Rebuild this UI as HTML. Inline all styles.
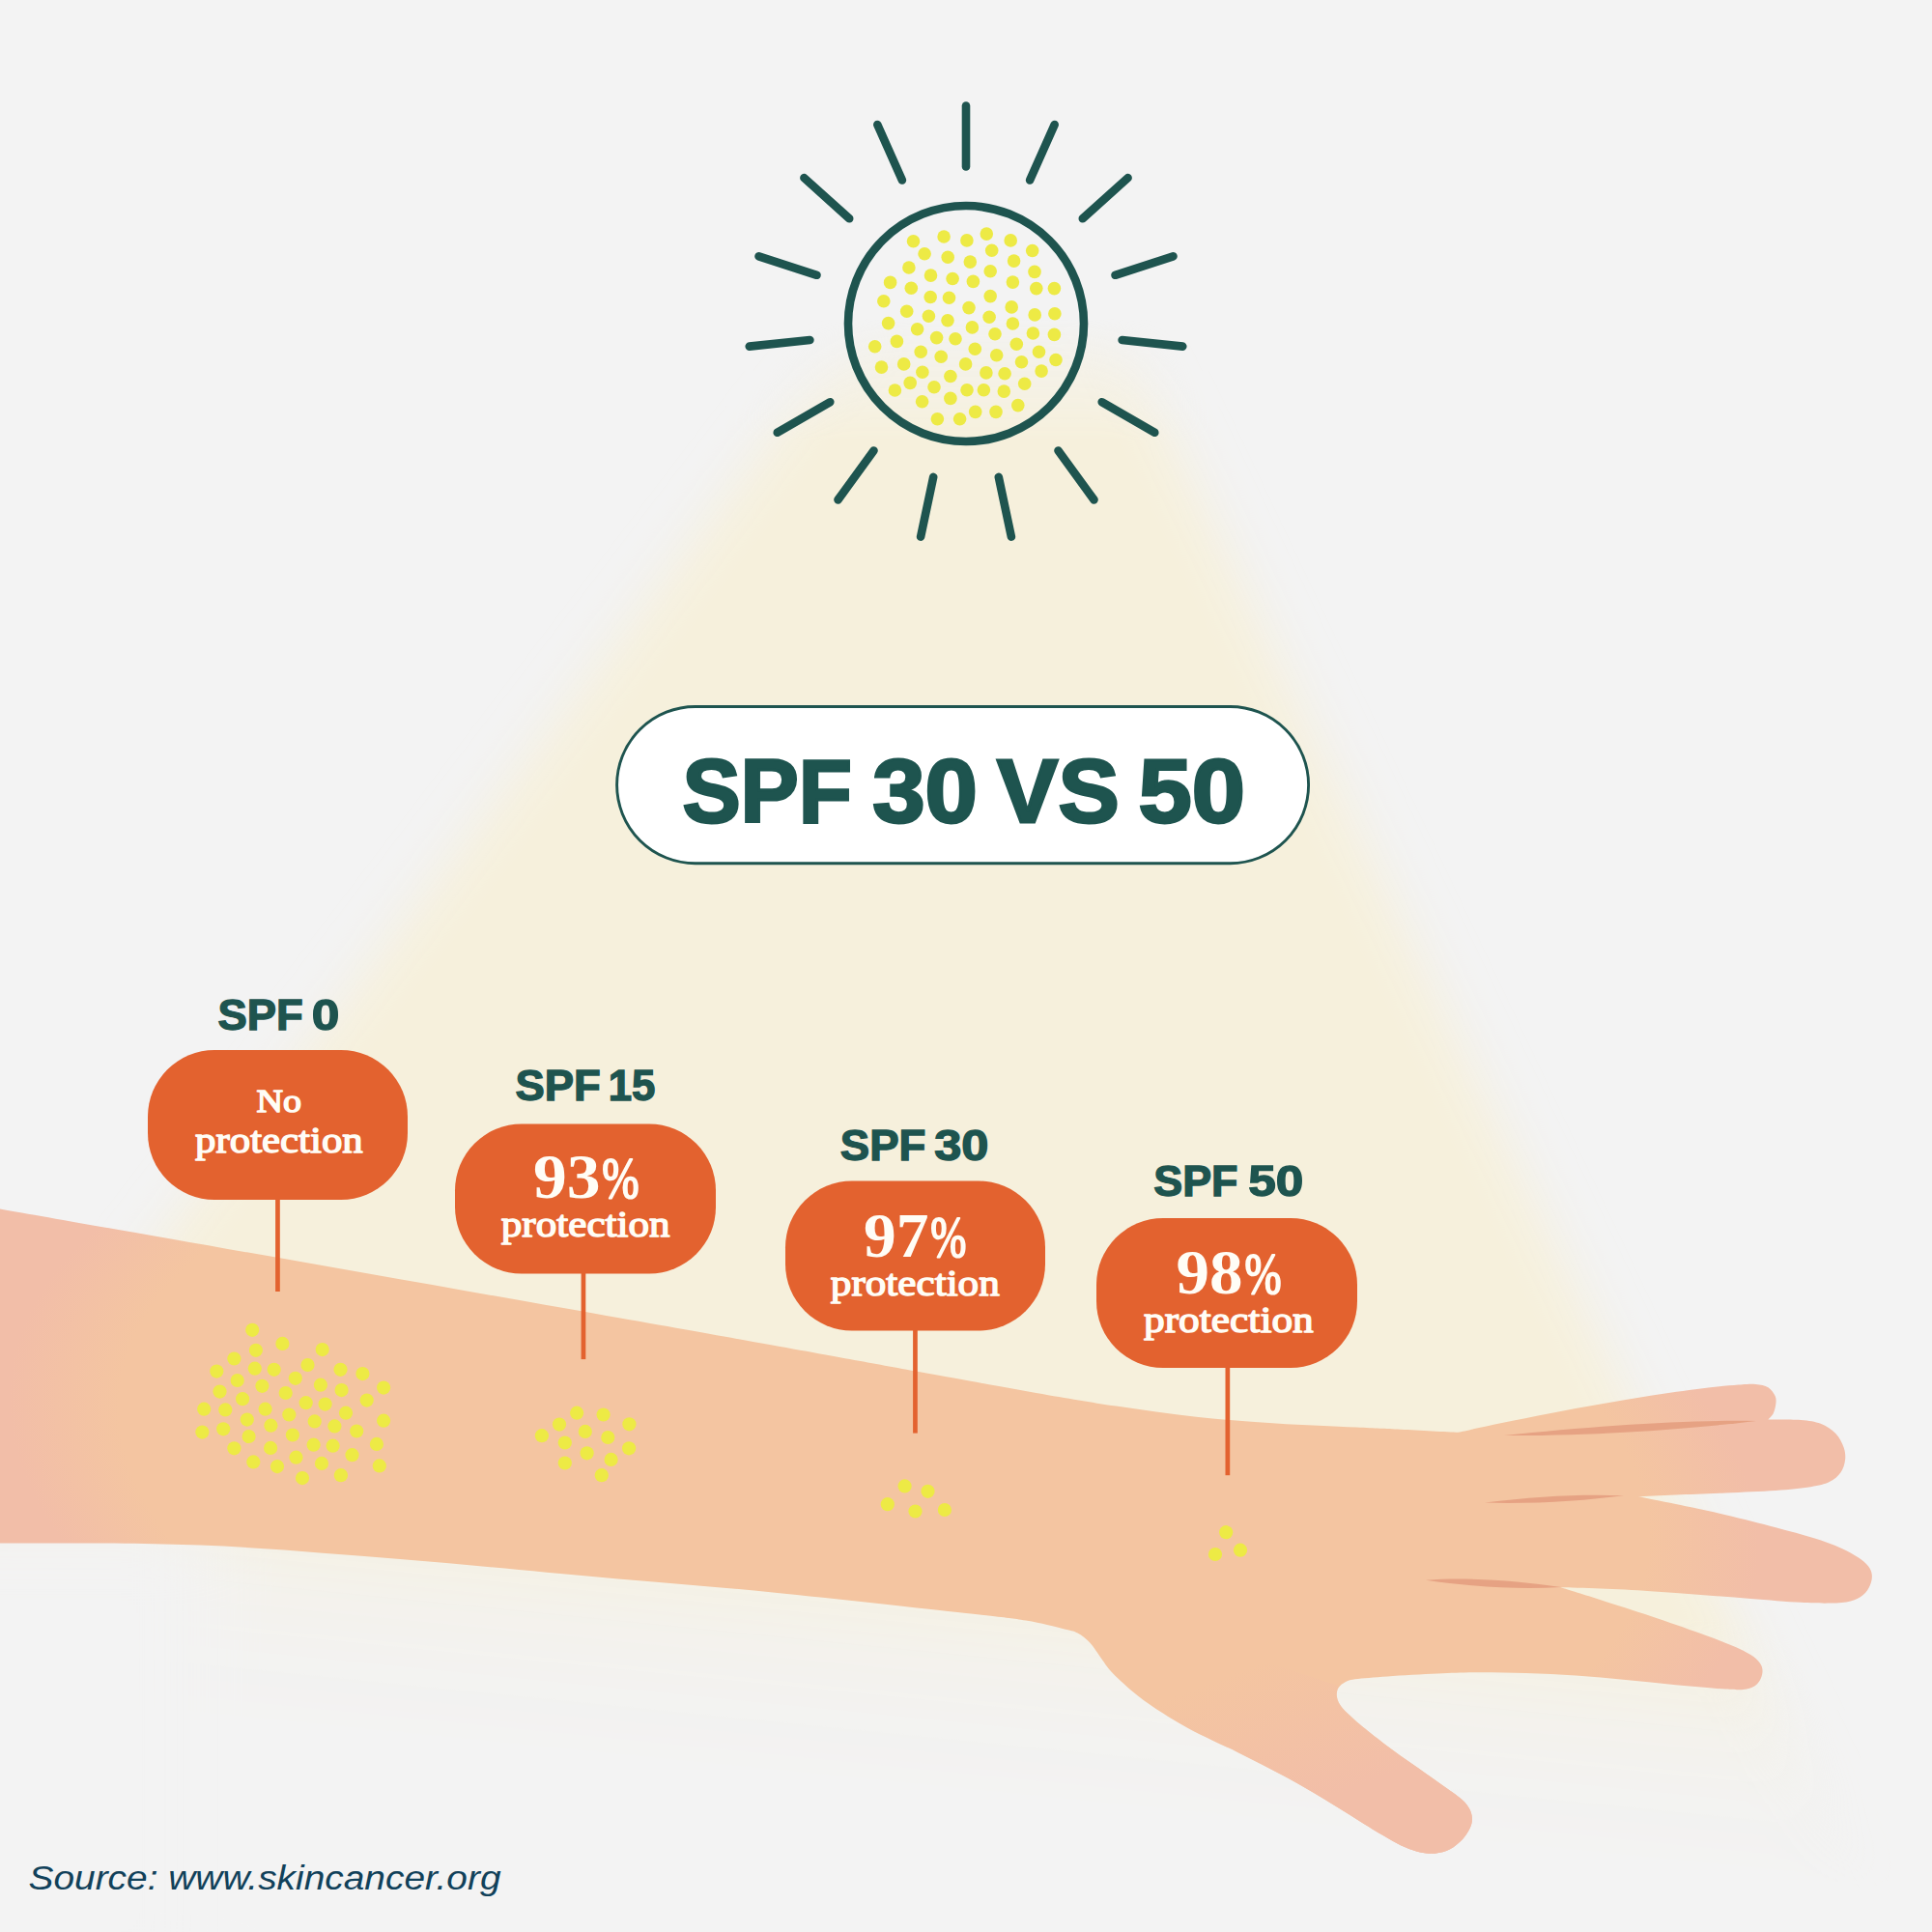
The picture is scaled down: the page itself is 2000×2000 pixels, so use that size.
<!DOCTYPE html>
<html lang="en"><head><meta charset="utf-8"><title>SPF 30 VS 50</title>
<style>
html,body{margin:0;padding:0;background:#F3F3F3;}
body{width:2000px;height:2000px;overflow:hidden;}
svg{display:block;}
.sans{font-family:"Liberation Sans",Arial,Helvetica,sans-serif;font-weight:700;fill:#1E544F;stroke:#1E544F;stroke-linejoin:miter;}
.serif{font-family:"Liberation Serif","Times New Roman",serif;font-weight:400;fill:#FFFDF6;stroke:#FFFDF6;stroke-linejoin:round;}
.serifb{font-family:"Liberation Serif","Times New Roman",serif;font-weight:700;fill:#FFFDF6;}
.src{font-family:"Liberation Sans",Arial,Helvetica,sans-serif;font-style:italic;fill:#11415A;}
</style></head><body>
<svg width="2000" height="2000" viewBox="0 0 2000 2000">
<defs>
<filter id="blur" x="-10%" y="-10%" width="120%" height="120%"><feGaussianBlur stdDeviation="26"/></filter>
<filter id="blur2" x="-40%" y="-40%" width="180%" height="180%"><feGaussianBlur stdDeviation="40"/></filter>
<linearGradient id="fadeTop" x1="0" y1="0" x2="0" y2="2000" gradientUnits="userSpaceOnUse">
<stop offset="0.165" stop-color="#fff" stop-opacity="0"/><stop offset="0.192" stop-color="#fff" stop-opacity="0.5"/><stop offset="0.228" stop-color="#fff" stop-opacity="1"/><stop offset="1" stop-color="#fff" stop-opacity="1"/></linearGradient>
<linearGradient id="fadeBot" x1="1000" y1="1600" x2="974" y2="1860" gradientUnits="userSpaceOnUse">
<stop offset="0" stop-color="#fff" stop-opacity="1"/><stop offset="0.27" stop-color="#fff" stop-opacity="0.55"/><stop offset="0.45" stop-color="#fff" stop-opacity="0.28"/><stop offset="0.7" stop-color="#fff" stop-opacity="0.1"/><stop offset="1" stop-color="#fff" stop-opacity="0"/></linearGradient>
<mask id="mTop" maskUnits="userSpaceOnUse" x="-300" y="0" width="2600" height="2100"><rect x="-300" y="0" width="2600" height="2100" fill="url(#fadeTop)"/></mask>
<mask id="mBot" maskUnits="userSpaceOnUse" x="-300" y="0" width="2600" height="2100"><rect x="-300" y="0" width="2600" height="2100" fill="url(#fadeBot)"/></mask>
<radialGradient id="skin" gradientUnits="userSpaceOnUse" cx="0" cy="0" r="1000" gradientTransform="translate(915,1524) rotate(6.2) scale(1,0.46)">
<stop offset="0" stop-color="#F4C5A1"/><stop offset="0.795" stop-color="#F4C5A1"/><stop offset="0.91" stop-color="#F2BEA8"/><stop offset="1" stop-color="#F2BEA8"/></radialGradient>
<linearGradient id="thumbg" x1="1270" y1="1735" x2="1325" y2="1880" gradientUnits="userSpaceOnUse">
<stop offset="0" stop-color="#F2BEA8" stop-opacity="0"/><stop offset="1" stop-color="#F2BEA8" stop-opacity="1"/></linearGradient>
<clipPath id="thumbclip"><path d="M1100,1650 L1385,1745 L1385,1760 L1560,1900 L1560,2000 L1100,2000Z"/></clipPath>
</defs>
<rect width="2000" height="2000" fill="#F3F3F3"/>
<g mask="url(#mBot)"><g mask="url(#mTop)"><path d="M 918,300 L 1140,300 L 1947,2000 L 1947,2100 L -377,2100 L -377,2000 Z" fill="#F6F0DC" filter="url(#blur)"/></g></g>
<rect x="-150" y="1575" width="370" height="500" fill="#F3F3F3" filter="url(#blur2)"/>
<path d="M -5,1250.5 C 112.5,1271.2 541.1,1346.6 700,1374.8 C 858.9,1403 886.3,1408.4 948.4,1419.6 C 1010.5,1430.8 1038.2,1435.9 1072.7,1441.9 C 1107.2,1447.9 1127.9,1451.4 1155.5,1455.6 C 1183.1,1459.8 1210.7,1463.8 1238.3,1466.8 C 1265.9,1469.8 1293.4,1471.6 1321,1473.4 C 1348.6,1475.2 1382.5,1476.5 1404,1477.5 C 1425.5,1478.5 1432.4,1478.8 1450,1479.7 C 1467.6,1480.6 1499.6,1482.3 1509.5,1482.8 C 1516.8,1481.2 1537.5,1476.5 1553.5,1473.2 C 1569.5,1469.9 1588,1466.2 1605.3,1462.9 C 1622.5,1459.6 1639.8,1456.6 1657,1453.6 C 1674.2,1450.6 1691.5,1447.5 1708.8,1444.8 C 1726.1,1442.1 1745.5,1439.4 1760.6,1437.5 C 1775.7,1435.6 1789.9,1434.4 1799.4,1433.6 C 1808.9,1432.8 1812.3,1432.5 1817.5,1432.9 C 1822.7,1433.3 1827,1434.1 1830.4,1436.2 C 1833.8,1438.3 1836.4,1442.3 1837.7,1445.3 C 1839,1448.3 1838.6,1451.3 1838.2,1454.3 C 1837.8,1457.3 1836.9,1460.9 1835.6,1463.4 C 1834.3,1465.9 1831.3,1468.4 1830.4,1469.4 C 1836,1469.5 1855,1469.2 1864.1,1469.9 C 1873.2,1470.6 1878.8,1471.4 1884.8,1473.8 C 1890.8,1476.2 1896.3,1480 1900.3,1484.1 C 1904.3,1488.2 1907,1493.8 1908.6,1498.3 C 1910.2,1502.8 1910.6,1507 1910.1,1511.3 C 1909.6,1515.6 1908.2,1520.4 1905.5,1524.2 C 1902.8,1528 1899,1531.6 1893.8,1534.1 C 1888.6,1536.6 1883.7,1537.7 1874.4,1539.2 C 1865.1,1540.7 1852.9,1541.9 1838.2,1542.9 C 1823.5,1543.9 1803.7,1544.6 1786.4,1545.4 C 1769.2,1546.2 1749.8,1546.8 1734.7,1547.5 C 1719.6,1548.2 1702.4,1549 1695.9,1549.3 C 1702.4,1550.6 1719.6,1553.9 1734.7,1557.1 C 1749.8,1560.2 1769.2,1564.2 1786.4,1568.2 C 1803.7,1572.2 1823.1,1577.2 1838.2,1581.2 C 1853.3,1585.2 1865.8,1588.5 1877,1592 C 1888.2,1595.5 1897.7,1599 1905.5,1602.4 C 1913.3,1605.8 1918.8,1609.1 1923.6,1612.2 C 1928.3,1615.3 1931.6,1618.3 1934,1621.3 C 1936.4,1624.3 1937.5,1627.1 1937.8,1630.3 C 1938.1,1633.5 1937.5,1637.2 1936,1640.7 C 1934.5,1644.2 1932.2,1648.2 1928.8,1651 C 1925.4,1653.8 1921.4,1656.1 1915.8,1657.5 C 1910.2,1658.9 1903.7,1659.4 1895.1,1659.6 C 1886.5,1659.8 1877.9,1659.6 1864.1,1658.8 C 1850.3,1658 1829.5,1656.2 1812.3,1654.9 C 1795,1653.6 1777.8,1652.3 1760.6,1651 C 1743.3,1649.7 1726.1,1648.3 1708.8,1647.2 C 1691.5,1646.1 1672.5,1645.2 1657,1644.6 C 1641.5,1643.9 1622.5,1643.5 1615.6,1643.3 C 1622.5,1645.5 1641.5,1651.2 1657,1656.2 C 1672.5,1661.2 1691.5,1667.2 1708.8,1673 C 1726.1,1678.8 1746.4,1685.9 1760.6,1691.1 C 1774.8,1696.3 1785.6,1700.4 1794.2,1704.1 C 1802.8,1707.8 1807.8,1710.3 1812.3,1713.1 C 1816.8,1715.9 1819.4,1718.3 1821.4,1720.9 C 1823.4,1723.5 1824.3,1725.9 1824.5,1728.7 C 1824.7,1731.5 1824.1,1734.9 1822.7,1737.7 C 1821.3,1740.5 1819.2,1743.6 1816.2,1745.5 C 1813.2,1747.4 1809.6,1748.4 1804.6,1748.9 C 1799.6,1749.4 1798.1,1749.4 1786.4,1748.6 C 1774.8,1747.8 1752,1745.8 1734.7,1744.2 C 1717.5,1742.6 1700.2,1740.6 1682.9,1739 C 1665.7,1737.4 1648.5,1735.8 1631.2,1734.6 C 1614,1733.4 1596.7,1732.5 1579.4,1732 C 1562.1,1731.5 1542.8,1731.2 1527.6,1731.3 C 1512.4,1731.4 1503.4,1731.9 1488.2,1732.6 C 1473,1733.3 1450.6,1734.5 1436.4,1735.4 C 1422.2,1736.4 1410.3,1737.2 1402.8,1738.3 C 1395.2,1739.4 1394.1,1740.5 1391.1,1742.2 C 1388.1,1743.9 1385.8,1746.1 1384.7,1748.7 C 1383.6,1751.3 1383.6,1754.8 1384.2,1757.8 C 1384.8,1760.8 1386.4,1763.8 1388.6,1766.8 C 1390.8,1769.8 1393.9,1772.5 1397.6,1775.9 C 1401.3,1779.4 1404.1,1782.2 1410.6,1787.5 C 1417.1,1792.8 1427.8,1801.2 1436.4,1807.7 C 1445,1814.2 1453.7,1820.2 1462.3,1826.3 C 1470.9,1832.4 1480,1838.7 1488.2,1844.5 C 1496.4,1850.3 1506.1,1856.8 1511.5,1861.3 C 1516.9,1865.8 1518.5,1868.1 1520.6,1871.6 C 1522.7,1875 1523.7,1878.5 1523.9,1882 C 1524.1,1885.5 1523.4,1888.6 1521.8,1892.3 C 1520.2,1896 1517.5,1900.3 1514.1,1904 C 1510.6,1907.7 1505.8,1911.8 1501.1,1914.3 C 1496.3,1916.8 1490.8,1918.2 1485.6,1918.7 C 1480.4,1919.2 1475.2,1918.5 1470,1917.4 C 1464.8,1916.3 1460.2,1914.8 1454.6,1912.3 C 1449,1909.8 1443.7,1906.9 1436.4,1902.7 C 1429.1,1898.5 1419.2,1892.5 1410.6,1887.2 C 1402,1881.9 1393.3,1876.4 1384.7,1871.1 C 1376.1,1865.8 1367.4,1860.4 1358.8,1855.3 C 1350.2,1850.2 1341.5,1845.3 1332.9,1840.6 C 1324.3,1835.9 1315.6,1831.4 1307,1826.9 C 1298.4,1822.5 1289.8,1818.1 1281.2,1813.9 C 1272.6,1809.7 1263.9,1805.9 1255.3,1801.7 C 1246.7,1797.5 1238,1793.5 1229.4,1788.8 C 1220.8,1784.1 1212.1,1778.9 1203.5,1773.3 C 1194.9,1767.7 1186.2,1762.1 1177.6,1755.2 C 1169,1748.3 1158.3,1738.6 1151.8,1731.9 C 1145.3,1725.2 1142.7,1720.2 1138.8,1715 C 1134.9,1709.8 1132.4,1704.9 1128.5,1700.8 C 1124.6,1696.7 1120.2,1693 1115.5,1690.5 C 1110.8,1688 1108.9,1688.2 1100,1686 C 1091.1,1683.8 1078.7,1680.3 1062,1677.6 C 1045.3,1674.9 1043.7,1674.9 1000,1670 C 956.3,1665.1 863.2,1654.6 800,1648.4 C 736.8,1642.2 685.3,1638.4 621,1632.7 C 556.7,1627 483,1619.5 414,1614 C 345,1608.5 276.8,1602.3 207,1599.6 C 137.2,1596.8 30.3,1597.8 -5,1597.5 Z" fill="url(#skin)"/>
<path d="M -5,1250.5 C 112.5,1271.2 541.1,1346.6 700,1374.8 C 858.9,1403 886.3,1408.4 948.4,1419.6 C 1010.5,1430.8 1038.2,1435.9 1072.7,1441.9 C 1107.2,1447.9 1127.9,1451.4 1155.5,1455.6 C 1183.1,1459.8 1210.7,1463.8 1238.3,1466.8 C 1265.9,1469.8 1293.4,1471.6 1321,1473.4 C 1348.6,1475.2 1382.5,1476.5 1404,1477.5 C 1425.5,1478.5 1432.4,1478.8 1450,1479.7 C 1467.6,1480.6 1499.6,1482.3 1509.5,1482.8 C 1516.8,1481.2 1537.5,1476.5 1553.5,1473.2 C 1569.5,1469.9 1588,1466.2 1605.3,1462.9 C 1622.5,1459.6 1639.8,1456.6 1657,1453.6 C 1674.2,1450.6 1691.5,1447.5 1708.8,1444.8 C 1726.1,1442.1 1745.5,1439.4 1760.6,1437.5 C 1775.7,1435.6 1789.9,1434.4 1799.4,1433.6 C 1808.9,1432.8 1812.3,1432.5 1817.5,1432.9 C 1822.7,1433.3 1827,1434.1 1830.4,1436.2 C 1833.8,1438.3 1836.4,1442.3 1837.7,1445.3 C 1839,1448.3 1838.6,1451.3 1838.2,1454.3 C 1837.8,1457.3 1836.9,1460.9 1835.6,1463.4 C 1834.3,1465.9 1831.3,1468.4 1830.4,1469.4 C 1836,1469.5 1855,1469.2 1864.1,1469.9 C 1873.2,1470.6 1878.8,1471.4 1884.8,1473.8 C 1890.8,1476.2 1896.3,1480 1900.3,1484.1 C 1904.3,1488.2 1907,1493.8 1908.6,1498.3 C 1910.2,1502.8 1910.6,1507 1910.1,1511.3 C 1909.6,1515.6 1908.2,1520.4 1905.5,1524.2 C 1902.8,1528 1899,1531.6 1893.8,1534.1 C 1888.6,1536.6 1883.7,1537.7 1874.4,1539.2 C 1865.1,1540.7 1852.9,1541.9 1838.2,1542.9 C 1823.5,1543.9 1803.7,1544.6 1786.4,1545.4 C 1769.2,1546.2 1749.8,1546.8 1734.7,1547.5 C 1719.6,1548.2 1702.4,1549 1695.9,1549.3 C 1702.4,1550.6 1719.6,1553.9 1734.7,1557.1 C 1749.8,1560.2 1769.2,1564.2 1786.4,1568.2 C 1803.7,1572.2 1823.1,1577.2 1838.2,1581.2 C 1853.3,1585.2 1865.8,1588.5 1877,1592 C 1888.2,1595.5 1897.7,1599 1905.5,1602.4 C 1913.3,1605.8 1918.8,1609.1 1923.6,1612.2 C 1928.3,1615.3 1931.6,1618.3 1934,1621.3 C 1936.4,1624.3 1937.5,1627.1 1937.8,1630.3 C 1938.1,1633.5 1937.5,1637.2 1936,1640.7 C 1934.5,1644.2 1932.2,1648.2 1928.8,1651 C 1925.4,1653.8 1921.4,1656.1 1915.8,1657.5 C 1910.2,1658.9 1903.7,1659.4 1895.1,1659.6 C 1886.5,1659.8 1877.9,1659.6 1864.1,1658.8 C 1850.3,1658 1829.5,1656.2 1812.3,1654.9 C 1795,1653.6 1777.8,1652.3 1760.6,1651 C 1743.3,1649.7 1726.1,1648.3 1708.8,1647.2 C 1691.5,1646.1 1672.5,1645.2 1657,1644.6 C 1641.5,1643.9 1622.5,1643.5 1615.6,1643.3 C 1622.5,1645.5 1641.5,1651.2 1657,1656.2 C 1672.5,1661.2 1691.5,1667.2 1708.8,1673 C 1726.1,1678.8 1746.4,1685.9 1760.6,1691.1 C 1774.8,1696.3 1785.6,1700.4 1794.2,1704.1 C 1802.8,1707.8 1807.8,1710.3 1812.3,1713.1 C 1816.8,1715.9 1819.4,1718.3 1821.4,1720.9 C 1823.4,1723.5 1824.3,1725.9 1824.5,1728.7 C 1824.7,1731.5 1824.1,1734.9 1822.7,1737.7 C 1821.3,1740.5 1819.2,1743.6 1816.2,1745.5 C 1813.2,1747.4 1809.6,1748.4 1804.6,1748.9 C 1799.6,1749.4 1798.1,1749.4 1786.4,1748.6 C 1774.8,1747.8 1752,1745.8 1734.7,1744.2 C 1717.5,1742.6 1700.2,1740.6 1682.9,1739 C 1665.7,1737.4 1648.5,1735.8 1631.2,1734.6 C 1614,1733.4 1596.7,1732.5 1579.4,1732 C 1562.1,1731.5 1542.8,1731.2 1527.6,1731.3 C 1512.4,1731.4 1503.4,1731.9 1488.2,1732.6 C 1473,1733.3 1450.6,1734.5 1436.4,1735.4 C 1422.2,1736.4 1410.3,1737.2 1402.8,1738.3 C 1395.2,1739.4 1394.1,1740.5 1391.1,1742.2 C 1388.1,1743.9 1385.8,1746.1 1384.7,1748.7 C 1383.6,1751.3 1383.6,1754.8 1384.2,1757.8 C 1384.8,1760.8 1386.4,1763.8 1388.6,1766.8 C 1390.8,1769.8 1393.9,1772.5 1397.6,1775.9 C 1401.3,1779.4 1404.1,1782.2 1410.6,1787.5 C 1417.1,1792.8 1427.8,1801.2 1436.4,1807.7 C 1445,1814.2 1453.7,1820.2 1462.3,1826.3 C 1470.9,1832.4 1480,1838.7 1488.2,1844.5 C 1496.4,1850.3 1506.1,1856.8 1511.5,1861.3 C 1516.9,1865.8 1518.5,1868.1 1520.6,1871.6 C 1522.7,1875 1523.7,1878.5 1523.9,1882 C 1524.1,1885.5 1523.4,1888.6 1521.8,1892.3 C 1520.2,1896 1517.5,1900.3 1514.1,1904 C 1510.6,1907.7 1505.8,1911.8 1501.1,1914.3 C 1496.3,1916.8 1490.8,1918.2 1485.6,1918.7 C 1480.4,1919.2 1475.2,1918.5 1470,1917.4 C 1464.8,1916.3 1460.2,1914.8 1454.6,1912.3 C 1449,1909.8 1443.7,1906.9 1436.4,1902.7 C 1429.1,1898.5 1419.2,1892.5 1410.6,1887.2 C 1402,1881.9 1393.3,1876.4 1384.7,1871.1 C 1376.1,1865.8 1367.4,1860.4 1358.8,1855.3 C 1350.2,1850.2 1341.5,1845.3 1332.9,1840.6 C 1324.3,1835.9 1315.6,1831.4 1307,1826.9 C 1298.4,1822.5 1289.8,1818.1 1281.2,1813.9 C 1272.6,1809.7 1263.9,1805.9 1255.3,1801.7 C 1246.7,1797.5 1238,1793.5 1229.4,1788.8 C 1220.8,1784.1 1212.1,1778.9 1203.5,1773.3 C 1194.9,1767.7 1186.2,1762.1 1177.6,1755.2 C 1169,1748.3 1158.3,1738.6 1151.8,1731.9 C 1145.3,1725.2 1142.7,1720.2 1138.8,1715 C 1134.9,1709.8 1132.4,1704.9 1128.5,1700.8 C 1124.6,1696.7 1120.2,1693 1115.5,1690.5 C 1110.8,1688 1108.9,1688.2 1100,1686 C 1091.1,1683.8 1078.7,1680.3 1062,1677.6 C 1045.3,1674.9 1043.7,1674.9 1000,1670 C 956.3,1665.1 863.2,1654.6 800,1648.4 C 736.8,1642.2 685.3,1638.4 621,1632.7 C 556.7,1627 483,1619.5 414,1614 C 345,1608.5 276.8,1602.3 207,1599.6 C 137.2,1596.8 30.3,1597.8 -5,1597.5 Z" fill="url(#thumbg)" clip-path="url(#thumbclip)"/>
<g fill="#E6A283"><path d="M1557,1486 C 1650,1476 1750,1469.5 1818,1471 C 1760,1478 1660,1486.5 1557,1486Z"/><path d="M1537,1555.6 C 1590,1548.5 1640,1546.5 1681,1548.2 C 1640,1553.5 1590,1557 1537,1555.6Z"/><path d="M1476,1635.8 C 1520,1632.5 1570,1636.5 1616,1643 C 1570,1646 1520,1642 1476,1635.8Z"/></g>
<g stroke="#1E544F" stroke-width="8.6" stroke-linecap="round" fill="none"><circle cx="1000" cy="335" r="122"/><line x1="1000" y1="172.5" x2="1000" y2="109.5"/><line x1="1066.1" y1="186.5" x2="1091.7" y2="129"/><line x1="1120.8" y1="226.3" x2="1167.6" y2="184.1"/><line x1="1154.5" y1="284.8" x2="1214.5" y2="265.3"/><line x1="1161.6" y1="352" x2="1224.3" y2="358.6"/><line x1="1140.7" y1="416.2" x2="1195.3" y2="447.8"/><line x1="1095.5" y1="466.5" x2="1132.5" y2="517.4"/><line x1="1033.8" y1="493.9" x2="1046.9" y2="555.6"/><line x1="966.2" y1="493.9" x2="953.1" y2="555.6"/><line x1="904.5" y1="466.5" x2="867.5" y2="517.4"/><line x1="859.3" y1="416.2" x2="804.7" y2="447.8"/><line x1="838.4" y1="352" x2="775.7" y2="358.6"/><line x1="845.5" y1="284.8" x2="785.5" y2="265.3"/><line x1="879.2" y1="226.3" x2="832.4" y2="184.1"/><line x1="933.9" y1="186.5" x2="908.3" y2="129"/></g>
<g fill="#EDEA45"><circle cx="945.5" cy="249.8" r="6.8"/><circle cx="977.1" cy="245" r="6.8"/><circle cx="1000.9" cy="248.9" r="6.8"/><circle cx="1021.3" cy="242.1" r="6.8"/><circle cx="1046.2" cy="248.9" r="6.8"/><circle cx="1068.7" cy="259.5" r="6.8"/><circle cx="957.1" cy="262.8" r="6.8"/><circle cx="981.2" cy="266.3" r="6.8"/><circle cx="1004.3" cy="271.1" r="6.8"/><circle cx="1026.7" cy="259.2" r="6.8"/><circle cx="1049.6" cy="270.1" r="6.8"/><circle cx="1071" cy="281.4" r="6.8"/><circle cx="940.9" cy="277" r="6.8"/><circle cx="963.5" cy="285.1" r="6.8"/><circle cx="986.1" cy="288.5" r="6.8"/><circle cx="1007.4" cy="291.4" r="6.8"/><circle cx="1025.2" cy="280.8" r="6.8"/><circle cx="1048.4" cy="292.1" r="6.8"/><circle cx="1072.8" cy="298.6" r="6.8"/><circle cx="1091.4" cy="298.6" r="6.8"/><circle cx="921.6" cy="292.4" r="6.8"/><circle cx="943.3" cy="298.3" r="6.8"/><circle cx="963.2" cy="307.5" r="6.8"/><circle cx="982.5" cy="308.3" r="6.8"/><circle cx="1025.2" cy="306.6" r="6.8"/><circle cx="1047.2" cy="317.9" r="6.8"/><circle cx="914.8" cy="311.8" r="6.8"/><circle cx="938.7" cy="322.2" r="6.8"/><circle cx="961.4" cy="327.2" r="6.8"/><circle cx="981" cy="331.8" r="6.8"/><circle cx="1003" cy="318.6" r="6.8"/><circle cx="1024.1" cy="328.3" r="6.8"/><circle cx="1071.2" cy="325.9" r="6.8"/><circle cx="1091.9" cy="324.7" r="6.8"/><circle cx="919.6" cy="334.6" r="6.8"/><circle cx="949.6" cy="340.7" r="6.8"/><circle cx="1006.4" cy="338.9" r="6.8"/><circle cx="1048.4" cy="335" r="6.8"/><circle cx="1030" cy="345.7" r="6.8"/><circle cx="1069.4" cy="345" r="6.8"/><circle cx="1091.4" cy="346.4" r="6.8"/><circle cx="969.6" cy="349.6" r="6.8"/><circle cx="989" cy="350.8" r="6.8"/><circle cx="928.4" cy="353.4" r="6.8"/><circle cx="905.7" cy="358.8" r="6.8"/><circle cx="1052.3" cy="356.3" r="6.8"/><circle cx="953.2" cy="364.3" r="6.8"/><circle cx="974.2" cy="369.3" r="6.8"/><circle cx="1009.3" cy="361.2" r="6.8"/><circle cx="1031.7" cy="367.8" r="6.8"/><circle cx="1075.5" cy="364.3" r="6.8"/><circle cx="1093" cy="372.5" r="6.8"/><circle cx="912.5" cy="380.1" r="6.8"/><circle cx="935.7" cy="376.9" r="6.8"/><circle cx="999.6" cy="376.9" r="6.8"/><circle cx="1057.5" cy="374.7" r="6.8"/><circle cx="954.9" cy="385.3" r="6.8"/><circle cx="983.9" cy="389.5" r="6.8"/><circle cx="1020.9" cy="385.9" r="6.8"/><circle cx="1040.1" cy="386.7" r="6.8"/><circle cx="1078.1" cy="384.1" r="6.8"/><circle cx="942.2" cy="396.4" r="6.8"/><circle cx="926.4" cy="404" r="6.8"/><circle cx="967" cy="400.8" r="6.8"/><circle cx="1001" cy="403.7" r="6.8"/><circle cx="1018.4" cy="403.7" r="6.8"/><circle cx="1039.3" cy="405.1" r="6.8"/><circle cx="1060.7" cy="397.2" r="6.8"/><circle cx="954.6" cy="415.7" r="6.8"/><circle cx="983.9" cy="412.4" r="6.8"/><circle cx="1053.8" cy="419.6" r="6.8"/><circle cx="1009.7" cy="426.4" r="6.8"/><circle cx="1031" cy="426.4" r="6.8"/><circle cx="970.4" cy="433.7" r="6.8"/><circle cx="993.6" cy="433.7" r="6.8"/></g>
<rect x="638.6" y="731.5" width="716" height="162.2" rx="81.1" fill="#fff" stroke="#1E544F" stroke-width="2.9"/>
<text class="sans" y="850.6" font-size="93" stroke-width="2.9"><tspan x="706.4" textLength="175.6" lengthAdjust="spacingAndGlyphs">SPF</tspan> <tspan x="903.2" textLength="108.8" lengthAdjust="spacingAndGlyphs">30</tspan> <tspan x="1032.1" textLength="126.6" lengthAdjust="spacingAndGlyphs">VS</tspan> <tspan x="1178.6" textLength="110.4" lengthAdjust="spacingAndGlyphs">50</tspan></text>
<rect x="285.1" y="1240" width="4.7" height="97" fill="#E3622F"/><rect x="153" y="1087" width="269" height="155" rx="69" ry="69" fill="#E3622F"/><text class="sans" y="1065.5" font-size="45.2" stroke-width="1.4"><tspan x="225.4" textLength="88.2" lengthAdjust="spacingAndGlyphs">SPF</tspan> <tspan x="322.8" textLength="28.6" lengthAdjust="spacingAndGlyphs">0</tspan></text><text class="serif" x="265.6" y="1151.2" font-size="34" stroke-width="1.5" textLength="46.6" lengthAdjust="spacingAndGlyphs">No</text><text class="serif" x="202" y="1193.2" font-size="37.8" stroke-width="1.4" textLength="173.8" lengthAdjust="spacingAndGlyphs">protection</text>
<rect x="601.6" y="1316.5" width="4.7" height="90.6" fill="#E3622F"/><rect x="471" y="1163.5" width="270" height="155" rx="69" ry="69" fill="#E3622F"/><text class="sans" y="1139.3" font-size="45.2" stroke-width="1.4"><tspan x="533.4" textLength="88.2" lengthAdjust="spacingAndGlyphs">SPF</tspan> <tspan x="629.8" textLength="48.6" lengthAdjust="spacingAndGlyphs">15</tspan></text><text class="serifb" y="1239.7"><tspan x="552" font-size="66.5" textLength="69.6" lengthAdjust="spacingAndGlyphs">93</tspan><tspan class="serif" x="623.3" font-size="61" stroke-width="2.1" textLength="38.3" lengthAdjust="spacingAndGlyphs">%</tspan></text><text class="serif" x="518.8" y="1280.2" font-size="37.8" stroke-width="1.4" textLength="174.8" lengthAdjust="spacingAndGlyphs">protection</text>
<rect x="945.1" y="1375.5" width="4.7" height="108.1" fill="#E3622F"/><rect x="813" y="1222.5" width="269" height="155" rx="69" ry="69" fill="#E3622F"/><text class="sans" y="1201.4" font-size="45.2" stroke-width="1.4"><tspan x="869.8" textLength="88.6" lengthAdjust="spacingAndGlyphs">SPF</tspan> <tspan x="967.2" textLength="56.3" lengthAdjust="spacingAndGlyphs">30</tspan></text><text class="serifb" y="1301"><tspan x="894" font-size="66.5" textLength="67.5" lengthAdjust="spacingAndGlyphs">97</tspan><tspan class="serif" x="963.2" font-size="61" stroke-width="2.1" textLength="37.1" lengthAdjust="spacingAndGlyphs">%</tspan></text><text class="serif" x="859.8" y="1341" font-size="37.8" stroke-width="1.4" textLength="175" lengthAdjust="spacingAndGlyphs">protection</text>
<rect x="1268.5" y="1414" width="4.7" height="113.2" fill="#E3622F"/><rect x="1135" y="1261" width="270" height="155" rx="69" ry="69" fill="#E3622F"/><text class="sans" y="1237.7" font-size="45.2" stroke-width="1.4"><tspan x="1194.3" textLength="87.2" lengthAdjust="spacingAndGlyphs">SPF</tspan> <tspan x="1292.3" textLength="57.1" lengthAdjust="spacingAndGlyphs">50</tspan></text><text class="serifb" y="1339"><tspan x="1217.5" font-size="66.5" textLength="69.1" lengthAdjust="spacingAndGlyphs">98</tspan><tspan class="serif" x="1288.4" font-size="61" stroke-width="2.1" textLength="38" lengthAdjust="spacingAndGlyphs">%</tspan></text><text class="serif" x="1184" y="1379" font-size="37.8" stroke-width="1.4" textLength="175.8" lengthAdjust="spacingAndGlyphs">protection</text>
<g fill="#EDEA45"><circle cx="261.2" cy="1376.8" r="7.1"/><circle cx="292.4" cy="1390.9" r="7.1"/><circle cx="264.9" cy="1397.8" r="7.1"/><circle cx="333.7" cy="1397.1" r="7.1"/><circle cx="242.4" cy="1406.5" r="7.1"/><circle cx="318.5" cy="1413" r="7.1"/><circle cx="263.8" cy="1416.7" r="7.1"/><circle cx="283.7" cy="1417.8" r="7.1"/><circle cx="224.3" cy="1419.6" r="7.1"/><circle cx="352.5" cy="1417.8" r="7.1"/><circle cx="375.4" cy="1422.1" r="7.1"/><circle cx="305.8" cy="1426.8" r="7.1"/><circle cx="245.7" cy="1429" r="7.1"/><circle cx="271.4" cy="1434.8" r="7.1"/><circle cx="331.9" cy="1433.7" r="7.1"/><circle cx="397.1" cy="1436.6" r="7.1"/><circle cx="227.5" cy="1440.6" r="7.1"/><circle cx="295.7" cy="1442" r="7.1"/><circle cx="353.6" cy="1439.1" r="7.1"/><circle cx="251.1" cy="1448.2" r="7.1"/><circle cx="316.7" cy="1452.2" r="7.1"/><circle cx="336.6" cy="1453.6" r="7.1"/><circle cx="379.7" cy="1449.6" r="7.1"/><circle cx="211.2" cy="1458.7" r="7.1"/><circle cx="233.3" cy="1459.4" r="7.1"/><circle cx="274.6" cy="1458.7" r="7.1"/><circle cx="299.3" cy="1464.5" r="7.1"/><circle cx="358" cy="1462.7" r="7.1"/><circle cx="255.8" cy="1469.6" r="7.1"/><circle cx="325.7" cy="1471.4" r="7.1"/><circle cx="397.1" cy="1470.7" r="7.1"/><circle cx="280.4" cy="1475.7" r="7.1"/><circle cx="346.4" cy="1476.4" r="7.1"/><circle cx="231.2" cy="1479.3" r="7.1"/><circle cx="209.4" cy="1482.6" r="7.1"/><circle cx="369.2" cy="1481.5" r="7.1"/><circle cx="257.6" cy="1487" r="7.1"/><circle cx="302.9" cy="1485.5" r="7.1"/><circle cx="389.9" cy="1494.9" r="7.1"/><circle cx="324.6" cy="1495.7" r="7.1"/><circle cx="344.6" cy="1496.7" r="7.1"/><circle cx="280.1" cy="1498.9" r="7.1"/><circle cx="242.4" cy="1499.3" r="7.1"/><circle cx="306.5" cy="1508.7" r="7.1"/><circle cx="364.5" cy="1506.2" r="7.1"/><circle cx="262.3" cy="1513.4" r="7.1"/><circle cx="333" cy="1514.9" r="7.1"/><circle cx="392.8" cy="1517.4" r="7.1"/><circle cx="287" cy="1518.1" r="7.1"/><circle cx="352.9" cy="1527.2" r="7.1"/><circle cx="313" cy="1530.1" r="7.1"/><circle cx="597.1" cy="1462.7" r="7.1"/><circle cx="624.6" cy="1464.5" r="7.1"/><circle cx="579" cy="1474.6" r="7.1"/><circle cx="651.4" cy="1474.3" r="7.1"/><circle cx="605.8" cy="1481.9" r="7.1"/><circle cx="560.9" cy="1486.2" r="7.1"/><circle cx="629.3" cy="1488" r="7.1"/><circle cx="584.8" cy="1493.5" r="7.1"/><circle cx="651.1" cy="1499.3" r="7.1"/><circle cx="607.6" cy="1504.3" r="7.1"/><circle cx="632.6" cy="1510.9" r="7.1"/><circle cx="584.8" cy="1514.5" r="7.1"/><circle cx="622.8" cy="1527.2" r="7.1"/><circle cx="936.6" cy="1538.4" r="7.1"/><circle cx="960.5" cy="1543.8" r="7.1"/><circle cx="918.8" cy="1557.2" r="7.1"/><circle cx="947.5" cy="1564.5" r="7.1"/><circle cx="977.9" cy="1563" r="7.1"/><circle cx="1269.2" cy="1586.2" r="7.1"/><circle cx="1258" cy="1609" r="7.1"/><circle cx="1284" cy="1604.7" r="7.1"/></g>
<text class="src" x="29.5" y="1956.3" font-size="35.5" textLength="489" lengthAdjust="spacingAndGlyphs">Source: www.skincancer.org</text>
</svg></body></html>
